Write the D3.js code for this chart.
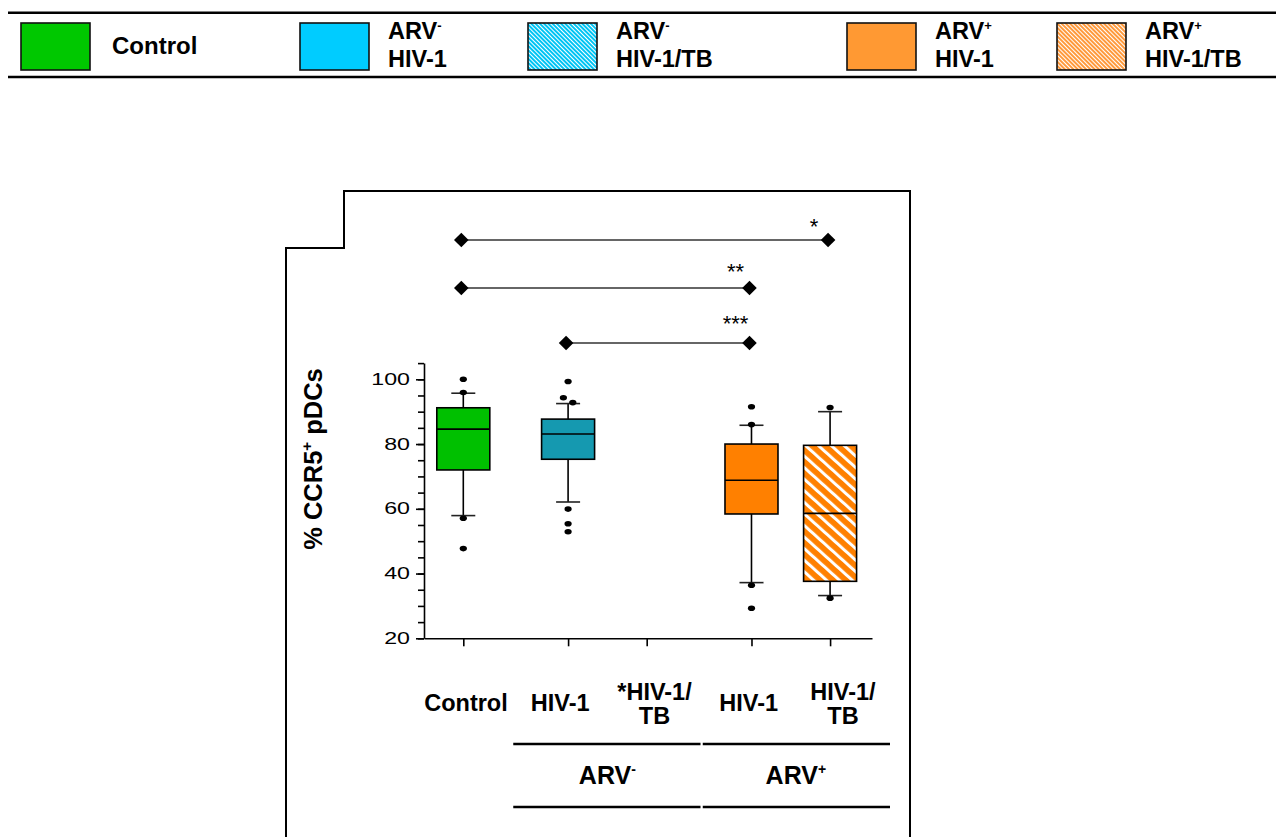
<!DOCTYPE html>
<html>
<head>
<meta charset="utf-8">
<script src="https://cdn.jsdelivr.net/npm/d3@7"></script>
<style>
  body { margin: 0; background: #fff; }
  svg { display: block; }
  text { font-family: "Liberation Sans", Arial, Helvetica, sans-serif; fill: #000; }
</style>
</head>
<body>
<svg id="chart" width="1276" height="837"></svg>
<script>
// ---- data -------------------------------------------------------------
const categories   = ["Control", "ARV- HIV-1", "ARV- HIV-1/TB", "ARV+ HIV-1", "ARV+ HIV-1/TB"];
const categorySlot = [0, 4, 7, 11, 14];          // spacing of the categories along the x axis
const labelLines   = [["Control"], ["HIV-1"], ["*HIV-1/", "TB"], ["HIV-1"], ["HIV-1/", "TB"]];

// box statistics (% CCR5+ pDCs); the ARV- HIV-1/TB group has no box
const whiskerLow  = [57.9, 62.1, null, 37.2, 33.2];
const q1          = [72.0, 75.3, null, 58.4, 37.6];
const median      = [84.6, 83.1, null, 68.8, 58.6];
const q3          = [91.2, 87.7, null, 80.0, 79.6];
const whiskerHigh = [95.7, 92.5, null, 85.8, 90.0];
const outliers    = [
  [100, 95.9, 57.1, 47.7],
  [99.3, 94.3, 92.8, 59.9, 55.4, 52.9],
  [],
  [91.5, 86.0, 36.4, 29.3],
  [91.3, 32.4]
];

const yMajorTicks = [20, 40, 60, 80, 100];
const yMinorTicks = d3.range(20, 106, 5);

// pairwise comparisons (category indices) and significance stars
const compareFrom  = [0, 0, 1];
const compareTo    = [4, 3, 3];
const compareStars = ["*", "**", "***"];

// legend entries
const legendLine1  = ["Control", "ARV", "ARV", "ARV", "ARV"];
const legendSup    = [null, "-", "-", "+", "+"];
const legendLine2  = [null, "HIV-1", "HIV-1/TB", "HIV-1", "HIV-1/TB"];

// group headers under the category labels
const groupNames = ["ARV", "ARV"];
const groupSup   = ["-", "+"];
const groupFrom  = [1, 3];
const groupTo    = [2, 4];

// ---- styles -----------------------------------------------------------
const boxFill    = ["#00c000", "#1599b0", null, "#ff8000", "url(#hatchOrange)"];
const legendFill = ["#00c800", "#00ccff", "url(#legHatchBlue)", "#ff9933", "url(#legHatchOrange)"];

const svg = d3.select("#chart");
const defs = svg.append("defs");

function stripePattern(id, bg, period, stripe, angle) {
  const p = defs.append("pattern")
    .attr("id", id)
    .attr("patternUnits", "userSpaceOnUse")
    .attr("width", period).attr("height", period)
    .attr("patternTransform", `rotate(${angle})`);
  p.append("rect").attr("width", period).attr("height", period).attr("fill", bg);
  p.append("rect").attr("width", stripe).attr("height", period).attr("fill", "#fff");
}
stripePattern("hatchOrange", "#ff8000", 8.6, 3, -48);
stripePattern("legHatchBlue", "#00c4f4", 3, 1, -45);
stripePattern("legHatchOrange", "#ff9a3c", 3, 1, -45);

// ---- legend -----------------------------------------------------------
const legendX = [21, 300, 528, 847, 1057];
const legend = svg.append("g");
legend.selectAll("line.rule").data([12.8, 77]).join("line")
  .attr("x1", 8).attr("x2", 1276)
  .attr("y1", d => d).attr("y2", d => d)
  .attr("stroke", "#000").attr("stroke-width", 2.6);

legendX.forEach((lx, i) => {
  legend.append("rect")
    .attr("x", lx).attr("y", 23).attr("width", 69).attr("height", 47)
    .attr("fill", legendFill[i]).attr("stroke", "#111").attr("stroke-width", 1.6);
  const tx = lx + 69 + (i === 0 ? 22 : 19);
  if (legendLine2[i] === null) {
    legend.append("text").attr("x", tx).attr("y", 54)
      .attr("font-size", 24).attr("font-weight", "bold").text(legendLine1[i]);
  } else {
    const t1 = legend.append("text").attr("x", tx).attr("y", 39)
      .attr("font-size", 23.5).attr("font-weight", "bold");
    t1.append("tspan").text(legendLine1[i]);
    t1.append("tspan").attr("dy", -9).attr("font-size", 13).text(legendSup[i]);
    legend.append("text").attr("x", tx).attr("y", 67)
      .attr("font-size", 23.5).attr("font-weight", "bold").text(legendLine2[i]);
  }
});

// ---- panel frame ------------------------------------------------------
svg.append("path")
  .attr("d", "M286,840V248H344V191H910V840")
  .attr("fill", "none").attr("stroke", "#000").attr("stroke-width", 2);

// ---- scales -----------------------------------------------------------
const x = d3.scaleLinear().domain([-1.5, 15.6]).range([424, 872]);
const y = d3.scaleLinear().domain([20, 105]).range([638.3, 363.1]);
const labelX = d3.scalePoint().domain(categories).range([466, 843]);

// ---- axes -------------------------------------------------------------
const axisStroke = g => g.selectAll("path, line").attr("stroke", "#000").attr("stroke-width", 1.6);

svg.append("g").attr("transform", "translate(424,0)")
  .call(d3.axisLeft(y).tickValues(yMinorTicks).tickSize(6).tickSizeOuter(0).tickFormat(""))
  .call(axisStroke);

const yAxis = svg.append("g").attr("transform", "translate(424,0)")
  .call(d3.axisLeft(y).tickValues(yMajorTicks).tickSize(8).tickSizeOuter(0))
  .call(axisStroke);
yAxis.select(".domain").remove();
const tickStretch = 1.45;
yAxis.selectAll("text")
  .attr("font-size", 16)
  .attr("font-family", "'Liberation Sans', Arial, sans-serif")
  .attr("fill", "#000")
  .attr("x", -14 / tickStretch)
  .attr("transform", `scale(${tickStretch},1)`);

svg.append("g").attr("transform", `translate(0,${y(20)})`)
  .call(d3.axisBottom(x).tickValues(categorySlot).tickSize(8).tickSizeOuter(0).tickFormat(""))
  .call(axisStroke);

// ---- boxes ------------------------------------------------------------
const boxW = 53, capW = 24, rx = 3.6, ry = 2.8;
const plot = svg.append("g");

categories.forEach((c, i) => {
  if (q1[i] === null) return;
  const cx = x(categorySlot[i]);
  const g = plot.append("g");
  // whiskers
  g.append("line").attr("x1", cx).attr("x2", cx)
    .attr("y1", y(whiskerLow[i])).attr("y2", y(q1[i]))
    .attr("stroke", "#000").attr("stroke-width", 1.6);
  g.append("line").attr("x1", cx).attr("x2", cx)
    .attr("y1", y(whiskerHigh[i])).attr("y2", y(q3[i]))
    .attr("stroke", "#000").attr("stroke-width", 1.6);
  [whiskerLow[i], whiskerHigh[i]].forEach(v => {
    g.append("line").attr("x1", cx - capW / 2).attr("x2", cx + capW / 2)
      .attr("y1", y(v)).attr("y2", y(v))
      .attr("stroke", "#222").attr("stroke-width", 1.6);
  });
  // box
  g.append("rect")
    .attr("x", cx - boxW / 2).attr("width", boxW)
    .attr("y", y(q3[i])).attr("height", y(q1[i]) - y(q3[i]))
    .attr("fill", boxFill[i]).attr("stroke", "#000").attr("stroke-width", 1.6);
  g.append("line").attr("x1", cx - boxW / 2).attr("x2", cx + boxW / 2)
    .attr("y1", y(median[i])).attr("y2", y(median[i]))
    .attr("stroke", "#000").attr("stroke-width", 1.6);

  // outliers, dodged sideways where dots would overlap
  const pts = outliers[i].slice().sort((a, b) => b - a);
  const clusters = [];
  pts.forEach(v => {
    const last = clusters[clusters.length - 1];
    if (last && Math.abs(y(v) - y(last[last.length - 1])) < 2 * ry + 1) last.push(v);
    else clusters.push([v]);
  });
  clusters.forEach(cl => {
    cl.forEach((v, k) => {
      g.append("ellipse")
        .attr("cx", cx + (k - (cl.length - 1) / 2) * 9.4)
        .attr("cy", y(v)).attr("rx", rx).attr("ry", ry)
        .attr("fill", "#000");
    });
  });
});

// ---- significance brackets -------------------------------------------
const bracketLevel = [143, 128.2, 111.2];   // heights above the plotted range, in axis units
const diamond = d3.symbol(d3.symbolSquare, 106);
compareFrom.forEach((a, r) => {
  const b = compareTo[r];
  const ly = y(bracketLevel[r]);
  const x1 = x(categorySlot[a]) - 2, x2 = x(categorySlot[b]) - 2;
  svg.append("line").attr("x1", x1).attr("x2", x2).attr("y1", ly).attr("y2", ly)
    .attr("stroke", "#333").attr("stroke-width", 1.6);
  [x1, x2].forEach(px => {
    svg.append("path").attr("d", diamond())
      .attr("transform", `translate(${px},${ly}) rotate(45)`)
      .attr("fill", "#000");
  });
  svg.append("text").attr("x", x2 - 14).attr("y", ly - 6 - 3 * r)
    .attr("text-anchor", "middle").attr("font-size", 22)
    .text(compareStars[r]);
});

// ---- y axis title -----------------------------------------------------
const yTitle = svg.append("text")
  .attr("transform", "translate(322,459) rotate(-90)")
  .attr("text-anchor", "middle")
  .attr("font-size", 25.5).attr("font-weight", "bold");
yTitle.append("tspan").text("% CCR5");
yTitle.append("tspan").attr("dy", -10).attr("font-size", 15).text("+");
yTitle.append("tspan").attr("dy", 10).text(" pDCs");

// ---- category labels --------------------------------------------------
categories.forEach((c, i) => {
  const lines = labelLines[i];
  const base = lines.length === 1 ? 711 : 700;
  lines.forEach((s, k) => {
    svg.append("text")
      .attr("x", labelX(c)).attr("y", base + k * 24)
      .attr("text-anchor", "middle")
      .attr("font-size", 23.5).attr("font-weight", "bold")
      .text(s);
  });
});

// ---- group headers ----------------------------------------------------
groupNames.forEach((name, gi) => {
  const xa = labelX(categories[groupFrom[gi]]) - 47;
  const xb = labelX(categories[groupTo[gi]]) + 47;
  const ga = gi === 0 ? xa : xa + 1;
  const gb = gi === 0 ? xb - 1 : xb;
  [744, 807].forEach(ly => {
    svg.append("line").attr("x1", ga).attr("x2", gb).attr("y1", ly).attr("y2", ly)
      .attr("stroke", "#000").attr("stroke-width", 2.4);
  });
  const t = svg.append("text")
    .attr("x", (xa + xb) / 2).attr("y", 784)
    .attr("text-anchor", "middle")
    .attr("font-size", 25).attr("font-weight", "bold");
  t.append("tspan").text(name);
  t.append("tspan").attr("dy", -10).attr("font-size", 14).text(groupSup[gi]);
});
</script>
</body>
</html>
